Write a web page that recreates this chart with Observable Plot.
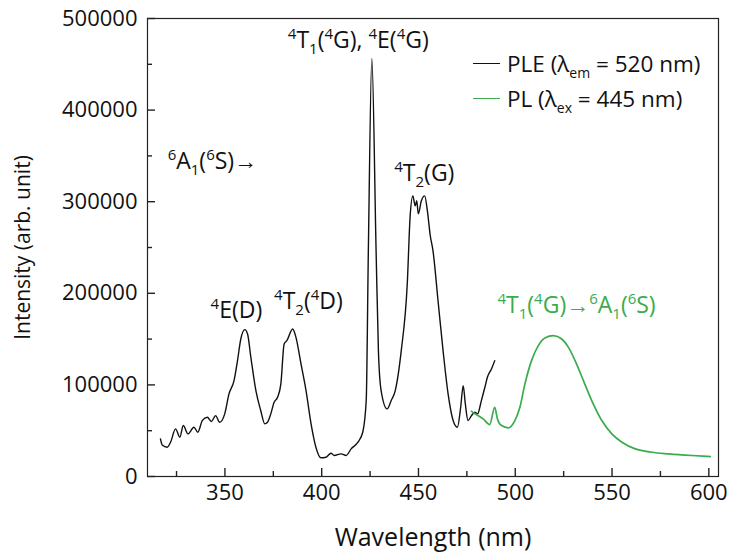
<!DOCTYPE html>
<html><head><meta charset="utf-8">
<script src="https://cdn.jsdelivr.net/npm/d3@7"></script>
<script src="https://cdn.jsdelivr.net/npm/@observablehq/plot@0.6"></script>
<style>
body{margin:0;background:#fff;}
#wrap{position:relative;width:729px;height:556px;font-family:"Open Sans",sans-serif;}
.leg{position:absolute;left:473px;height:30px;font-size:22.5px;display:flex;align-items:center;color:#111;white-space:nowrap;}
.leg .sw{width:27px;height:0;border-top:1.6px solid;margin-right:7px;}
.leg sub{font-size:14px;vertical-align:-6px;line-height:0;}
</style></head>
<body><div id="wrap"></div>
<script>
// PLE (λem = 520 nm)
const pleX=[316.7,317.6,320.2,321.9,324.5,326.7,328.5,330.9,334.0,336.0,338.3,340.9,343.0,345.2,347.3,349.9,352.1,354.7,356.5,358.2,360.3,361.7,363.4,366.0,368.5,370.6,372.0,373.7,375.4,377.2,378.9,380.6,382.0,385.0,386.7,389.3,391.9,394.5,397.0,399.6,402.2,404.8,406.5,410.0,412.6,415.2,418.7,421.2,423.0,424.1,425.9,428.1,429.3,430.7,433.8,435.9,438.0,441.1,444.2,445.7,447.1,448.3,449.1,449.9,451.5,453.2,454.6,456.1,457.5,460.1,462.7,465.3,467.9,470.1,471.8,473.1,474.2,475.6,477.4,479.1,480.5,482.5,484.3,485.6,487.7,489.4];
const pleY=[41100,34500,32000,37400,52000,42900,55600,46500,53800,48300,61000,64700,60000,66500,59200,68400,90200,104700,126500,150100,160300,155600,130100,93800,72000,57500,59200,68400,81000,86500,101100,144700,148300,161000,151900,122900,93800,57500,32000,20400,21000,25400,22900,24700,22900,30200,37400,48300,82900,246400,456500,246400,137400,93800,73800,82900,93800,137400,210100,284600,306400,295500,301000,286800,301000,306400,290000,262800,246400,191900,137400,90200,61100,53800,75600,99200,79300,61100,66500,70100,68400,82900,97400,108300,117400,126500];
// PL (λex = 445 nm)
const plX=[477.4,479.9,483.4,486.8,489.4,490.8,492.9,496.4,499.8,502.4,505.0,508.4,511.9,515.3,519.7,524.0,527.5,530.9,535.2,539.5,544.7,549.9,555.1,562.0,570.6,579.3,591.3,600.8];
const plY=[71200,67600,62900,56700,75600,62900,55600,53100,61100,75600,101100,126500,142900,151300,153800,150100,141000,126500,104700,82900,61100,46500,37400,30200,26500,24700,22900,21800];
// ticks
const xMajor=[350,400,450,500,550,600];
const xMinor=[325,375,425,475,525,575];
const yMajor=[0,100000,200000,300000,400000,500000];
const yMinor=[50000,150000,250000,350000,450000];
// annotations (^ = superscript, _ = subscript)
const noteText=["^4T_1(^4G), ^4E(^4G)","^6A_1(^6S)\u2192","^4T_2(G)","^4E(D)","^4T_2(^4D)","^4T_1(^4G)\u2192^6A_1(^6S)"];
const noteX=[382.5,320.4,437.5,342.6,375.4,490.8];
const noteY=[475500,343500,330400,181000,190800,186500];
const noteSeries=["PLE","PLE","PLE","PLE","PLE","PL"];
const seriesNames=["PLE","PL"];
const seriesColors=["#111111","#3aac4c"];

const color=s=>seriesColors[seriesNames.indexOf(s)];
const ple=pleX.map((x,i)=>({x,y:pleY[i]}));
const pl=plX.map((x,i)=>({x,y:plY[i]}));
const notes=noteText.map((t,i)=>({t,x:noteX[i],y:noteY[i],c:color(noteSeries[i])}));

const chart=Plot.plot({
  width:729,height:556,marginLeft:147,marginRight:11,marginTop:18,marginBottom:80,
  style:{fontFamily:"Open Sans, sans-serif",fontSize:"22px",color:"#111",background:"#fff",overflow:"visible"},
  x:{domain:[310,605]},
  y:{domain:[0,500000]},
  marks:[
    Plot.axisX(xMajor,{tickSize:0,tickPadding:8,fontSize:22,label:null}),
    Plot.axisX(xMajor,{tickSize:0,tickFormat:()=>"",label:"Wavelength (nm)",fontSize:25,labelAnchor:"center",labelOffset:69,labelArrow:"none"}),
    Plot.axisY(yMajor,{tickSize:0,tickPadding:10,fontSize:22,tickFormat:d=>String(d),label:null}),
    Plot.axisY(yMajor,{tickSize:0,tickFormat:()=>"",label:"Intensity (arb. unit)",fontSize:21,labelAnchor:"center",labelOffset:132,labelArrow:"none"}),
    // tick marks (flipped inward after render)
    Plot.axisX(xMajor,{tickSize:8,tickFormat:()=>"",label:null,stroke:"#222",strokeWidth:1.4}),
    Plot.axisX(xMinor,{tickSize:5,tickFormat:()=>"",label:null,stroke:"#222",strokeWidth:1.4}),
    Plot.axisY(yMajor,{tickSize:8,tickFormat:()=>"",label:null,stroke:"#222",strokeWidth:1.4}),
    Plot.axisY(yMinor,{tickSize:5,tickFormat:()=>"",label:null,stroke:"#222",strokeWidth:1.4}),
    Plot.frame({stroke:"#222",strokeWidth:1.2}),
    Plot.line(ple,{x:"x",y:"y",stroke:color("PLE"),strokeWidth:1.4,curve:"monotone-x"}),
    Plot.line(pl,{x:"x",y:"y",stroke:color("PL"),strokeWidth:1.7,curve:"monotone-x"}),
    Plot.text(notes,{x:"x",y:"y",text:"t",fill:"c",textAnchor:"start",fontSize:23})
  ]
});

// flip tick marks to point inside the frame
d3.select(chart).selectAll('g[aria-label="x-axis tick"] path').attr("d",function(){return this.getAttribute("d").replace(/L0,(\d+(\.\d+)?)/,"L0,-$1");});
d3.select(chart).selectAll('g[aria-label="y-axis tick"] path').attr("d",function(){return this.getAttribute("d").replace(/L-(\d+(\.\d+)?),0/,"L$1,0");});

// rich text for super/subscripts
const NS="http://www.w3.org/2000/svg";
function rich(el){
  const s=el.textContent; if(!/[\^_]/.test(s)) return;
  el.textContent="";
  let shift=0, i=0;
  while(i<s.length){
    let mode=0, run="";
    if(s[i]==="^"||s[i]==="_"){mode=s[i]==="^"?-1:1; run=s[i+1]; i+=2;}
    else { while(i<s.length && s[i]!=="^" && s[i]!=="_"){run+=s[i]; i++;} }
    const target=mode===-1?-9:mode===1?6:0;
    const t=document.createElementNS(NS,"tspan");
    if(target!==shift) t.setAttribute("dy",target-shift);
    shift=target;
    if(mode) t.setAttribute("font-size","15");
    t.textContent=run; el.appendChild(t);
  }
}
d3.select(chart).selectAll('g[aria-label="text"] text').each(function(){rich(this);});

const wrap=document.getElementById("wrap");
wrap.appendChild(chart);
const legRows=[{name:"PLE",html:"PLE (\u03BB<sub>em</sub> = 520 nm)",top:48},{name:"PL",html:"PL (\u03BB<sub>ex</sub> = 445 nm)",top:83}];
for(const r of legRows){
  const d=document.createElement("div");d.className="leg";d.style.top=r.top+"px";
  d.innerHTML=`<span class="sw" style="border-color:${color(r.name)}"></span><span>${r.html}</span>`;
  wrap.appendChild(d);
}
</script>
</body></html>
